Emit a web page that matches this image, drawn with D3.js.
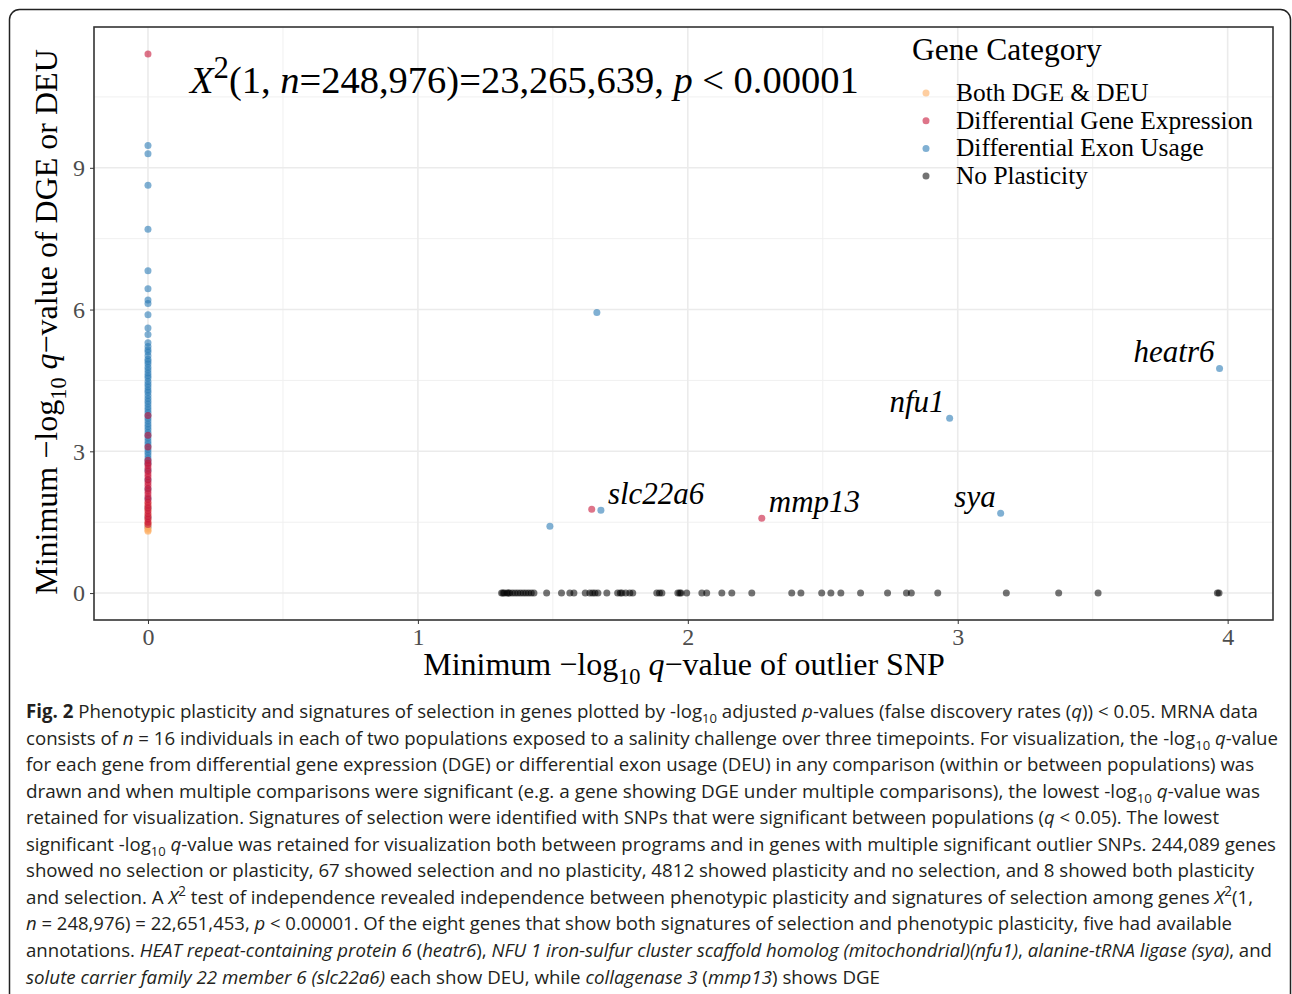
<!DOCTYPE html>
<html lang="en">
<head>
<meta charset="utf-8">
<title>Fig. 2 plasticity vs selection</title>
<script src="https://d3js.org/d3.v7.min.js"></script>
<style>
  body { margin: 0; background: #fff; }
  svg { display: block; }
</style>
</head>
<body>
<div id="mainDiv"></div>
<script type="text/javascript">
// ---- data ----
const categories = ['Both DGE & DEU', 'Differential Gene Expression', 'Differential Exon Usage', 'No Plasticity']
const catColors = ['#fdae61', '#c8183a', '#2c7bb6', '#000000']

// genes with plasticity but no selection (x = 0)
const deuColumnY = [9.47, 9.30, 8.63, 7.70, 6.82, 6.44, 6.20, 6.13, 5.89, 5.61, 5.47, 5.30, 5.22, 5.15, 5.10,
  5.02, 4.95, 4.90, 4.85, 4.78, 4.72, 4.66, 4.60, 4.55, 4.48, 4.42, 4.36, 4.30, 4.25, 4.18, 4.12, 4.06,
  4.00, 3.94, 3.88, 3.82, 3.76, 3.70, 3.64, 3.58, 3.52, 3.46, 3.40, 3.34, 3.28, 3.22, 3.16, 3.10, 3.04,
  2.98, 2.92, 2.86, 2.80, 2.74, 2.60, 2.40, 2.20, 2.00, 1.80, 1.60, 1.40]
const bothColumnY = [1.90, 1.82, 1.75, 1.66, 1.58, 1.50, 1.45, 1.40, 1.36, 1.33, 1.31]
const dgeColumnY = [11.41, 3.76, 3.34, 3.09, 2.81, 2.75, 2.70, 2.64, 2.58, 2.52, 2.46, 2.40, 2.34, 2.28,
  2.22, 2.16, 2.10, 2.04, 1.98, 1.92, 1.86, 1.80, 1.74, 1.68, 1.62, 1.56, 1.50, 1.45]

// genes with selection but no plasticity (y = 0)
const noPlasticityX = [1.31, 1.315, 1.32, 1.33, 1.335, 1.34, 1.35, 1.36, 1.37, 1.38, 1.39, 1.40, 1.41, 1.42,
  1.43, 1.477, 1.532, 1.563, 1.578, 1.62, 1.637, 1.647, 1.656, 1.667, 1.70, 1.74, 1.75, 1.756, 1.77,
  1.785, 1.796, 1.885, 1.895, 1.904, 1.963, 1.97, 1.975, 1.996, 2.052, 2.07, 2.126, 2.163, 2.237, 2.385,
  2.419, 2.496, 2.53, 2.567, 2.64, 2.74, 2.81, 2.828, 2.926, 3.18, 3.374, 3.52, 3.962, 3.968]

// genes with both selection and plasticity
const bothGeneNames = ['', '', '', 'slc22a6', 'mmp13', 'heatr6', 'nfu1', 'sya']
const bothGeneX = [1.663, 1.489, 1.644, 1.678, 2.274, 3.970, 2.970, 3.159]
const bothGeneY = [5.94, 1.416, 1.775, 1.754, 1.585, 4.754, 3.70, 1.69]
const bothGeneCat = [2, 2, 1, 2, 1, 2, 2, 2]
const labelSide = ['', '', '', 'right', 'right', 'left', 'left', 'left']

const xTicks = [0, 1, 2, 3, 4]
const yTicks = [0, 3, 6, 9]
const xMinor = [0.5, 1.5, 2.5, 3.5]
const yMinor = [1.5, 4.5, 7.5, 10.5]

// ---- layout ----
const width = 1292
const height = 994
const panel = { left: 94, right: 1273, top: 27, bottom: 620 }
const serif = '"Liberation Serif", "DejaVu Serif", serif'

const svg = d3.select('#mainDiv').append('svg')
  .attr('width', width)
  .attr('height', height)

svg.append('rect')
  .attr('x', 9.5).attr('y', 9.5)
  .attr('width', 1281).attr('height', 1010)
  .attr('rx', 10)
  .attr('fill', 'none').attr('stroke', '#222').attr('stroke-width', 1.5)

const xScale = d3.scaleLinear().domain([-0.2, 4.168]).range([panel.left, panel.right])
const yScale = d3.scaleLinear().domain([-0.57, 11.98]).range([panel.bottom, panel.top])

// rich text helper: segments [text, style] with style in '', 'i', 'b', 'sub', 'sup'
function richText(parent, segs, size, supScale = 0.72) {
  const t = parent.append('text').attr('font-size', size)
  let shift = 0
  segs.forEach(([txt, st]) => {
    const span = t.append('tspan').text(txt)
    let target = 0
    if (st === 'sub') { target = size * 0.28; span.attr('font-size', size * 0.7) }
    if (st === 'sup') { target = -size * 0.4; span.attr('font-size', size * supScale) }
    if (st === 'i') span.attr('font-style', 'italic')
    if (st === 'b') span.attr('font-weight', 'bold')
    if (target !== shift) { span.attr('dy', target - shift); shift = target }
  })
  return t
}

// grid
const grid = svg.append('g')
grid.selectAll('.xminor').data(xMinor).join('line')
  .attr('x1', d => xScale(d)).attr('x2', d => xScale(d))
  .attr('y1', panel.top).attr('y2', panel.bottom)
  .attr('stroke', '#f0f0f0').attr('stroke-width', 1)
grid.selectAll('.yminor').data(yMinor).join('line')
  .attr('y1', d => yScale(d)).attr('y2', d => yScale(d))
  .attr('x1', panel.left).attr('x2', panel.right)
  .attr('stroke', '#f0f0f0').attr('stroke-width', 1)
grid.selectAll('.xmajor').data(xTicks).join('line')
  .attr('x1', d => xScale(d)).attr('x2', d => xScale(d))
  .attr('y1', panel.top).attr('y2', panel.bottom)
  .attr('stroke', '#ebebeb').attr('stroke-width', 1.6)
grid.selectAll('.ymajor').data(yTicks).join('line')
  .attr('y1', d => yScale(d)).attr('y2', d => yScale(d))
  .attr('x1', panel.left).attr('x2', panel.right)
  .attr('stroke', '#ebebeb').attr('stroke-width', 1.6)

// axes
const xAxis = d3.axisBottom(xScale).tickValues(xTicks).tickSize(4).tickPadding(4).tickFormat(d3.format('d'))
const yAxis = d3.axisLeft(yScale).tickValues(yTicks).tickSize(4).tickPadding(5).tickFormat(d3.format('d'))
const gx = svg.append('g').attr('transform', `translate(0,${panel.bottom})`).call(xAxis)
const gy = svg.append('g').attr('transform', `translate(${panel.left},0)`).call(yAxis)
;[gx, gy].forEach(g => {
  g.select('.domain').remove()
  g.selectAll('.tick line').attr('stroke', '#333')
  g.selectAll('.tick text').attr('fill', '#4d4d4d').attr('font-family', serif).attr('font-size', 24)
})

// points (orange drawn under red so the overlap blends like the original)
const pts = []
noPlasticityX.forEach(x => pts.push({ x, y: 0, c: 3 }))
deuColumnY.forEach(y => pts.push({ x: 0, y, c: 2 }))
bothColumnY.forEach(y => pts.push({ x: 0, y, c: 0 }))
dgeColumnY.forEach(y => pts.push({ x: 0, y, c: 1 }))
bothGeneX.forEach((x, i) => pts.push({ x, y: bothGeneY[i], c: bothGeneCat[i] }))

svg.append('g').selectAll('circle').data(pts).join('circle')
  .attr('cx', d => xScale(d.x))
  .attr('cy', d => yScale(d.y))
  .attr('r', 3.5)
  .attr('fill', d => catColors[d.c])
  .attr('fill-opacity', d => d.c === 3 ? 0.55 : 0.6)

// gene labels
const labels = svg.append('g').attr('font-family', serif).attr('font-style', 'italic').attr('fill', '#000')
bothGeneNames.forEach((name, i) => {
  if (!name) return
  const px = xScale(bothGeneX[i]), py = yScale(bothGeneY[i])
  const right = labelSide[i] === 'right'
  labels.append('text')
    .attr('x', right ? px + 7 : px - 5)
    .attr('y', py - 6)
    .attr('text-anchor', right ? 'start' : 'end')
    .attr('font-size', 31)
    .text(name)
})

// panel border
svg.append('rect')
  .attr('x', panel.left).attr('y', panel.top)
  .attr('width', panel.right - panel.left).attr('height', panel.bottom - panel.top)
  .attr('fill', 'none').attr('stroke', '#333').attr('stroke-width', 1.6)

// chi square annotation
const chi = richText(svg, [['X', 'i'], ['2', 'sup'], ['(1, ', ''], ['n', 'i'], ['=248,976)=23,265,639, ', ''],
  ['p', 'i'], [' < 0.00001', '']], 38.5, 0.8)
chi.attr('x', 190).attr('y', 93).attr('font-family', serif)

// axis titles
const xt = richText(svg, [['Minimum \u2212log', ''], ['10', 'sub'], [' ', ''], ['q', 'i'],
  ['\u2212value of outlier SNP', '']], 32)
xt.attr('x', 684).attr('y', 675).attr('text-anchor', 'middle').attr('font-family', serif)

const yt = richText(svg, [['Minimum \u2212log', ''], ['10', 'sub'], [' ', ''], ['q', 'i'],
  ['\u2212value of DGE or DEU', '']], 32)
yt.attr('transform', 'translate(57,322) rotate(-90)').attr('text-anchor', 'middle').attr('font-family', serif)

// legend
const legend = svg.append('g').attr('font-family', serif)
legend.append('text').attr('x', 912).attr('y', 60).attr('font-size', 31.5).text('Gene Category')
categories.forEach((c, i) => {
  legend.append('circle')
    .attr('cx', 926).attr('cy', 93 + i * 27.7).attr('r', 3.5)
    .attr('fill', catColors[i]).attr('fill-opacity', i === 3 ? 0.55 : 0.6)
  legend.append('text').attr('x', 956).attr('y', 101 + i * 27.7).attr('font-size', 25.4).text(c)
})

// caption
const captionLines = [
  [[['Fig. 2', 'b'], [' Phenotypic plasticity and signatures of selection in genes plotted by -log', ''], ['10', 'sub'],
    [' adjusted ', ''], ['p', 'i'], ['-values (false discovery rates (', ''], ['q', 'i'], [')) < 0.05. MRNA data', '']], 1258],
  [[['consists of ', ''], ['n', 'i'], [' = 16 individuals in each of two populations exposed to a salinity challenge over three timepoints. For visualization, the -log', ''],
    ['10', 'sub'], [' ', ''], ['q', 'i'], ['-value', '']], 1278],
  [[['for each gene from differential gene expression (DGE) or differential exon usage (DEU) in any comparison (within or between populations) was', '']], 1254],
  [[['drawn and when multiple comparisons were significant (e.g. a gene showing DGE under multiple comparisons), the lowest -log', ''], ['10', 'sub'],
    [' ', ''], ['q', 'i'], ['-value was', '']], 1260],
  [[['retained for visualization. Signatures of selection were identified with SNPs that were significant between populations (', ''], ['q', 'i'],
    [' < 0.05). The lowest', '']], 1219],
  [[['significant -log', ''], ['10', 'sub'], [' ', ''], ['q', 'i'],
    ['-value was retained for visualization both between programs and in genes with multiple significant outlier SNPs. 244,089 genes', '']], 1276],
  [[['showed no selection or plasticity, 67 showed selection and no plasticity, 4812 showed plasticity and no selection, and 8 showed both plasticity', '']], 1254],
  [[['and selection. A ', ''], ['X', 'i'], ['2', 'sup'], [' test of independence revealed independence between phenotypic plasticity and signatures of selection among genes ', ''],
    ['X', 'i'], ['2', 'sup'], ['(1,', '']], 1253],
  [[['n', 'i'], [' = 248,976) = 22,651,453, ', ''], ['p', 'i'],
    [' < 0.00001. Of the eight genes that show both signatures of selection and phenotypic plasticity, five had available', '']], 1232],
  [[['annotations. ', ''], ['HEAT repeat-containing protein 6', 'i'], [' (', ''], ['heatr6', 'i'], ['), ', ''],
    ['NFU 1 iron-sulfur cluster scaffold homolog (mitochondrial)(nfu1)', 'i'], [', ', ''], ['alanine-tRNA ligase (sya)', 'i'], [', and', '']], 1272],
  [[['solute carrier family 22 member 6 (slc22a6)', 'i'], [' each show DEU, while ', ''], ['collagenase 3', 'i'], [' (', ''], ['mmp13', 'i'],
    [') shows DGE', '']], 880]
]
const caption = svg.append('g').attr('font-family', '"Open Sans", "Noto Sans", sans-serif').attr('fill', '#231f20')
captionLines.forEach(([segs, right], i) => {
  const t = richText(caption, segs, 19)
  t.attr('x', 26).attr('y', 718 + i * 26.55)
    .attr('textLength', right - 26).attr('lengthAdjust', 'spacingAndGlyphs')
})
</script>
</body>
</html>
